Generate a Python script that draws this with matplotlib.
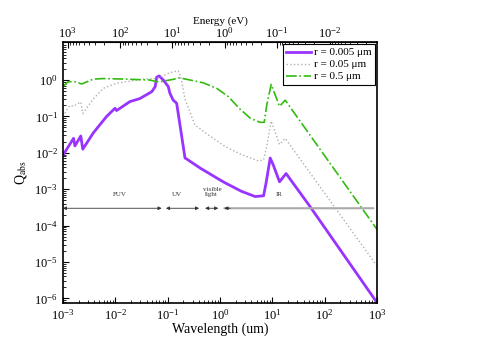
import matplotlib
matplotlib.use("Agg")
import matplotlib.pyplot as plt

plt.rcParams["font.family"] = ["Liberation Serif", "DejaVu Serif"]
plt.rcParams["mathtext.fontset"] = "stix"

# r = 0.005 um
wl_a = [1.0e-3, 1.6e-3, 1.7e-3, 2.2e-3, 2.4e-3, 3.8e-3, 6.8e-3, 9.9e-3, 1.06e-2, 0.019,
        0.0295, 0.05, 0.058, 0.062, 0.069, 0.083, 0.103, 0.111, 0.128, 0.149, 0.215,
        0.23, 0.42, 0.6, 1.0, 1.25, 2.6, 4.7, 6.8, 7.6, 9.1, 10.5, 13.7, 18.3, 52, 1000]
q_a = [8.5e-3, 0.025, 0.0155, 0.029, 0.0126, 0.035, 0.099, 0.168, 0.145, 0.255,
       0.31, 0.48, 0.66, 1.2, 1.3, 1.0, 0.66, 0.43, 0.28, 0.23, 0.0072,
       0.0068, 0.0038, 0.0028, 0.0018, 0.0015, 8.7e-4, 6.3e-4, 6.6e-4, 0.0015, 0.0072, 0.0045,
       0.0016, 0.0027, 3.4e-4, 7.6e-7]

# r = 0.05 um
wl_b = [1.0e-3, 1.36e-3, 1.6e-3, 2.2e-3, 2.4e-3, 3.8e-3, 5.9e-3, 0.0106, 0.034, 0.062,
        0.111, 0.16, 0.18, 0.215, 0.33, 0.6, 1.25, 2.6, 5.4, 6.8, 7.8, 9.5, 13.7, 17.6, 1000]
q_b = [0.1, 0.2, 0.19, 0.25, 0.12, 0.3, 0.59, 0.82, 1.06, 1.1,
       1.6, 1.8, 1.2, 0.3, 0.059, 0.031, 0.015, 0.0089, 0.006, 0.0064, 0.015, 0.075, 0.017,
       0.025, 7.7e-6]

# r = 0.5 um
wl_c = [1.0e-3, 1.26e-3, 1.7e-3, 2.3e-3, 3.8e-3, 5.9e-3, 0.0165, 0.046, 0.062, 0.072,
        0.13, 0.17, 0.31, 0.48, 0.87, 1.45, 2.3, 3.8, 5.8, 7.0, 7.8, 9.5, 13.7, 17.6, 1000]
q_c = [0.66, 0.9, 0.9, 0.78, 1.06, 1.1, 1.06, 1.0, 0.9, 0.9,
       1.05, 1.15, 0.96, 0.84, 0.59, 0.35, 0.17, 0.089, 0.069, 0.069, 0.2, 0.76, 0.19, 0.28,
       7.8e-5]

labels = ["r = 0.005 \u03bcm", "r = 0.05 \u03bcm", "r = 0.5 \u03bcm"]
energy_ticks = [1e3, 1e2, 1e1, 1e0, 1e-1, 1e-2]

# spectral bands (wavelength ranges, um)
band_names = ["FUV", "UV", "visible\nlight", "IR"]
band_lo = [1.0e-3, 0.093, 0.52, 1.21]
band_hi = [0.077, 0.40, 0.93, 850]
band_text_x = [0.0123, 0.15, 0.7, 13.7]
band_y = 3e-4

fig = plt.figure(figsize=(4.91, 3.40), dpi=100)
ax = fig.add_axes([0.128, 0.109, 0.640, 0.767])

ax.plot(wl_a, q_a, color="#9933ff", lw=2.0, label=labels[0])
ax.plot(wl_b, q_b, color="#b0b0b0", lw=1.0, ls=":", label=labels[1])
ax.plot(wl_c, q_c, color="#33bb11", lw=1.2, ls="-.", label=labels[2])

for i, name in enumerate(band_names):
    if name == "IR":
        ax.annotate("", xy=(band_lo[i], band_y), xytext=(band_hi[i], band_y),
                    arrowprops=dict(arrowstyle="-", color="#aaaaaa", lw=1.5,
                                    shrinkA=0, shrinkB=0))
        ax.annotate("", xy=(band_lo[i], band_y), xytext=(band_lo[i] * 1.3, band_y),
                    arrowprops=dict(arrowstyle="-|>", color="#333333", lw=0.6,
                                    mutation_scale=5, shrinkA=0, shrinkB=0))
    else:
        ax.annotate("", xy=(band_lo[i], band_y), xytext=(band_hi[i], band_y),
                    arrowprops=dict(arrowstyle="<|-|>", color="#333333", lw=0.6,
                                    mutation_scale=5, shrinkA=0, shrinkB=0))
    ax.text(band_text_x[i], band_y * 2.1, name, fontsize=5, ha="center",
            va="bottom", color="#333333", linespacing=1.0)

ax.set_xscale("log")
ax.set_yscale("log")
ax.set_xlim(1e-3, 1e3)
ax.set_ylim(7.5e-7, 11)
ax.set_xlabel("Wavelength (um)", fontsize=10, labelpad=0)
ax.set_ylabel(r"Q$_{\rm abs}$", fontsize=10, labelpad=4)
ax.tick_params(which="both", direction="in", top=False, right=False, labelsize=9)
ax.tick_params(which="major", length=4)
ax.tick_params(which="minor", length=2)
ax.set_yticks([1e-6, 1e-5, 1e-4, 1e-3, 1e-2, 1e-1, 1e0])

sec = ax.secondary_xaxis("top", functions=(lambda x: 1.24 / x, lambda e: 1.24 / e))
sec.set_xticks(energy_ticks)
sec.set_xlabel("Energy (eV)", fontsize=8, labelpad=2)
sec.tick_params(which="both", direction="in", labelsize=9, pad=1)
sec.tick_params(which="major", length=4)
sec.tick_params(which="minor", length=2)

for s in ax.spines.values():
    s.set_linewidth(1.2)

leg = ax.legend(loc="upper right", fontsize=8, fancybox=False, framealpha=1,
                edgecolor="black", borderpad=0.3, handlelength=2.2,
                handletextpad=0.3, labelspacing=0.2, borderaxespad=0.2)
leg.get_frame().set_linewidth(0.8)

fig.savefig("out.png", dpi=100)
